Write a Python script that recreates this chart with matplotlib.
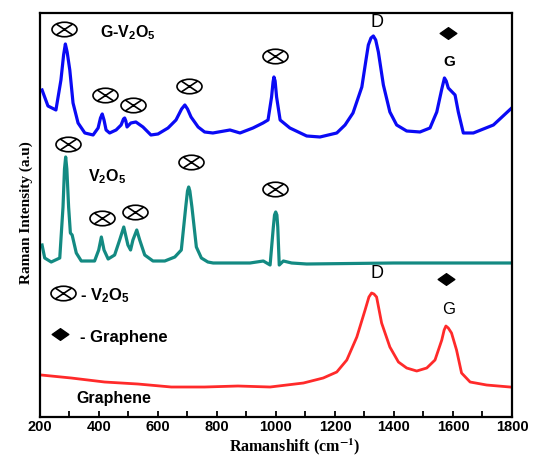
import numpy as np
import matplotlib
matplotlib.use('Agg')
import matplotlib.pyplot as plt
from matplotlib.path import Path
from matplotlib.transforms import Affine2D

# traced spectra (Raman shift in cm-1, intensity in a.u.)
gv_x = [207, 227, 254, 271, 280, 286, 292, 301, 312, 329, 352, 380, 397, 405, 411, 417, 424,
        436, 458, 475, 483, 487, 491, 495, 508, 525, 549, 576, 600, 634, 661, 680, 691, 700,
        712, 736, 758, 786, 844, 878, 922, 956, 973, 985, 990, 993, 997, 1002, 1014, 1047,
        1104, 1149, 1206, 1234, 1261, 1291, 1305, 1313, 1322, 1330, 1338, 1347, 1364, 1386,
        1409, 1443, 1488, 1522, 1545, 1562, 1571, 1577, 1584, 1607, 1618, 1635, 1669, 1737, 1799]
gv_y = [327, 311, 307, 337, 362, 373, 365, 347, 314, 294, 284, 282, 289, 299, 303, 297, 287,
        284, 287, 292, 298, 299, 296, 290, 294, 295, 290, 282, 283, 289, 297, 308, 312, 308,
        300, 290, 285, 284, 287, 284, 289, 294, 297, 320, 335, 340, 336, 320, 297, 289,
        281, 280, 284, 292, 304, 330, 357, 372, 379, 381, 377, 365, 332, 305,
        292, 286, 285, 289, 305, 328, 339, 336, 329, 322, 305, 284, 284, 292, 309]

v_x = [207, 216, 238, 267, 278, 283, 287, 291, 297, 303, 309, 323, 340, 385, 399, 408, 417,
       431, 453, 470, 484, 498, 507, 515, 528, 538, 555, 583, 623, 657, 679, 694, 700, 704,
       708, 715, 730, 747, 769, 787, 855, 912, 957, 980, 991, 995, 999, 1003, 1006, 1011,
       1025, 1053, 1104, 1400, 1800]
v_y = [172, 159, 155, 159, 210, 248, 260, 248, 210, 184, 182, 164, 156, 156, 167, 180, 167,
       158, 162, 177, 190, 172, 167, 177, 187, 177, 162, 156, 156, 160, 167, 210, 226, 230,
       226, 210, 170, 159, 155, 154, 154, 154, 156, 152, 190, 202, 205, 202, 190, 152,
       156, 154, 153, 154, 154]

gr_x = [204, 306, 419, 532, 645, 758, 871, 980, 1093, 1160, 1206, 1240, 1274, 1302, 1315,
        1324, 1332, 1341, 1358, 1386, 1415, 1443, 1477, 1511, 1539, 1562, 1570, 1576, 1584,
        1595, 1612, 1629, 1658, 1714, 1793]
gr_y = [42, 39, 35, 33, 30, 30, 31, 30, 34, 39, 45, 57, 80, 107, 120,
        124, 123, 120, 94, 70, 55, 49, 46, 49, 57, 77, 87, 91, 89,
        84, 67, 44, 35, 32, 30]

# annotation symbols
vo_marks_x = [281, 420, 515, 705, 997, 295, 410, 522, 712, 997]
vo_marks_y = [388, 322, 312, 331, 361, 273, 199, 205, 255, 228]
g_marks_x = [1583, 1576]
g_marks_y = [384, 138]

plt.rcParams['font.family'] = ['Liberation Sans', 'DejaVu Sans']
plt.rcParams['mathtext.fontset'] = 'custom'
plt.rcParams['mathtext.rm'] = 'Liberation Sans:bold'
plt.rcParams['mathtext.it'] = 'Liberation Sans:bold'
plt.rcParams['mathtext.bf'] = 'Liberation Sans:bold'

# circled cross marker (slightly flattened) and flat diamond
circ = Path.unit_circle().transformed(Affine2D().scale(1.0, 0.58))
cx, cy = 0.62, 0.62 * 0.58 * 1.15
cross = Path([(-cx, -cy), (cx, cy), (-cx, cy), (cx, -cy)],
             [Path.MOVETO, Path.LINETO, Path.MOVETO, Path.LINETO])
otimes = Path.make_compound_path(circ, cross)
diamond = Path([(0, 0.7), (1, 0), (0, -0.7), (-1, 0), (0, 0.7)],
               [Path.MOVETO, Path.LINETO, Path.LINETO, Path.LINETO, Path.CLOSEPOLY])

fig = plt.figure(figsize=(5.34, 4.57), dpi=100)
ax = fig.add_axes([0.0749, 0.0875, 0.8839, 0.8841])

ax.plot(gv_x, gv_y, color='#0a0af5', lw=2.3, solid_joinstyle='round')
ax.plot(v_x, v_y, color='#138a82', lw=2.3, solid_joinstyle='round')
ax.plot(gr_x, gr_y, color='#ff2a2a', lw=2.0, solid_joinstyle='round')

ax.plot(vo_marks_x, vo_marks_y, ls='none', marker=otimes, ms=18, mfc='none',
        mec='black', mew=1.2)
ax.plot([278], [124], ls='none', marker=otimes, ms=18, mfc='none', mec='black', mew=1.2)
ax.plot(g_marks_x, g_marks_y, ls='none', marker=diamond, ms=12, color='black')
ax.plot([268], [83], ls='none', marker=diamond, ms=12, color='black')

bold = dict(fontweight='bold', va='center', ha='left')
ax.text(403, 384, r'G-V$_2$O$_5$', fontsize=11.5, **bold)
ax.text(363, 240, r'V$_2$O$_5$', fontsize=11.5, **bold)
ax.text(336, 121, r'- V$_2$O$_5$', fontsize=12, **bold)
ax.text(336, 80, '- Graphene', fontsize=12, **bold)
ax.text(322, 19, 'Graphene', fontsize=11.5, **bold)
ax.text(1342, 394, 'D', fontsize=13, ha='center', va='center')
ax.text(1586, 355, 'G', fontsize=11, fontweight='bold', ha='center', va='center')
ax.text(1342, 144, 'D', fontsize=13, ha='center', va='center')
ax.text(1586, 108, 'G', fontsize=12, ha='center', va='center')

ax.set_xlim(200, 1800)
ax.set_ylim(0, 404)
ax.set_xticks(np.arange(200, 1801, 200))
ax.set_xticks(np.arange(300, 1800, 200), minor=True)
ax.set_yticks([])
ax.tick_params(axis='x', which='both', direction='in', length=4, width=1.3,
               labelsize=10.5, pad=2)
for lab in ax.get_xticklabels():
    lab.set_fontweight('bold')
for sp in ax.spines.values():
    sp.set_linewidth(1.6)

ax.set_xlabel(r'Ramanshift (cm$^{\mathbf{-1}}$)', fontsize=11.5, fontweight='bold',
              family='Liberation Serif', math_fontfamily='stix')
ax.xaxis.label.set_verticalalignment('bottom')
ax.xaxis.set_label_coords(0.54, -0.098)
ax.set_ylabel('Raman Intensity (a.u)', fontsize=11, fontweight='bold',
              family='Liberation Serif')
ax.yaxis.set_label_coords(-0.015, 0.507)

plt.savefig('out.png', dpi=100)
